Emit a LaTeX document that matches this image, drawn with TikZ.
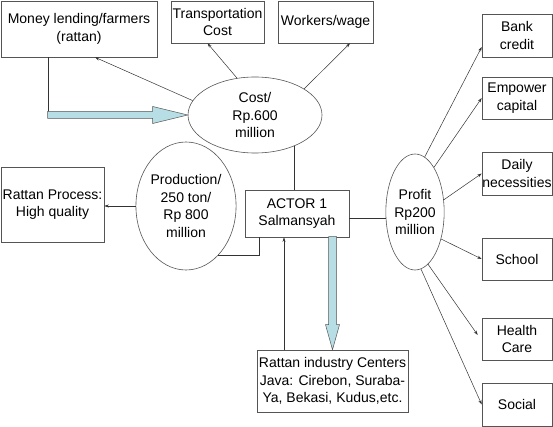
\documentclass[tikz,border=0pt]{standalone}
\usepackage{fontspec}
\setmainfont{Liberation Sans}
\usetikzlibrary{arrows.meta,shapes.geometric,calc}
\definecolor{shaftblue}{RGB}{182,222,228}
\definecolor{edgegray}{RGB}{85,85,85}

\tikzset{
	box/.style={draw=edgegray,line width=0.6pt,inner sep=1pt,align=center,font=\fontsize{14}{17.5}\selectfont},
	oval/.style={ellipse,draw=edgegray,line width=0.6pt,inner sep=0pt,align=center,font=\fontsize{14}{17.5}\selectfont},
	line/.style={draw=black!80,line width=0.5pt},
	arr/.style={line,-{Stealth[length=4.5pt,width=3pt]}},
	fatarrow/.style={draw=edgegray,line width=0.5pt,fill=shaftblue,line join=miter}
}

\begin{document}
\begin{tikzpicture}[x=1pt,y=-1pt]
		\useasboundingbox (0,0) rectangle (553,427);
		
		% boxes on top
		\node[box,minimum width=156,minimum height=56] (money) at (79,29) {Money lending/farmers\\(rattan)};
		\node[box,minimum width=93,minimum height=42] (transport) at (217.5,22) {Transportation\\Cost};
		\node[box,minimum width=95,minimum height=42] (workers) at (325.5,22) {Workers/wage};
		
		% boxes on the right
		\node[box,minimum width=70,minimum height=43,inner sep=0pt] (bank) at (517,35.5) {Bank\\credit};
		\node[box,minimum width=70,minimum height=42,inner sep=0pt] (empower) at (517,98) {Empower\\capital};
		\node[box,minimum width=70,minimum height=43,inner sep=0pt] (daily) at (517,173.5) {Daily\\necessities};
		\node[box,minimum width=70,minimum height=42,inner sep=0pt] (school) at (517,259) {School};
		\node[box,minimum width=70,minimum height=42,inner sep=0pt] (health) at (517,339) {Health\\Care};
		\node[box,minimum width=70,minimum height=43,inner sep=0pt] (social) at (517,404.5) {Social};
		
		% middle
		\node[box,minimum width=103,minimum height=75] (process) at (52.5,204.5) {Rattan Process:\\High quality};
		\node[box,minimum width=104,minimum height=47] (actor) at (297,213.5) {ACTOR 1\\Salmansyah};
		\node[box,minimum width=151,minimum height=62] (industry) at (332.5,381) {Rattan industry Centers\\Java: Cirebon, Suraba-\\Ya, Bekasi, Kudus,etc.};
		
		\node[oval,minimum width=134,minimum height=76] (cost) at (255,115) {Cost/\\Rp.600\\million};
		\node[oval,minimum width=100,minimum height=128] (production) at (186,206) {Production/\\250 ton/\\Rp 800\\million};
		\node[oval,minimum width=56,minimum height=116] (profit) at (415,212) {Profit\\Rp200\\million};
		
		% cost
		\draw[arr] (cost.167) -- ([xshift=16pt]money.south);
		\draw[arr] (cost.116) -- ([xshift=-10pt]transport.south);
		\draw[arr] (cost.28) -- ([xshift=24.5pt]workers.south);
		\draw[line] (cost.-38) -- (cost.-38 |- actor.north);
		
		% fat arrows
		\draw[line] ([xshift=-31pt]money.south) -- ++(0,55);
		\draw[fatarrow] (cost.west) -- ++(-35,-8.5) -- ++(0,5) -- ++(-105,0) -- ++(0,7) -- ++(105,0) -- ++(0,5) -- cycle;
		\draw[fatarrow] (industry.north) -- ++(-7,-25) -- ++(3,0) -- ++(0,-88) -- ++(8,0) -- ++(0,88) -- ++(3,0) -- cycle;
		
		% production and actor
		\draw[arr] (production.west) -- (production.west -| process.east);
		\draw[line] (production.-57) -| ([xshift=15pt]actor.south west);
		\coordinate (upend) at ([xshift=-13pt]actor.south);
		\draw[arr] (upend |- industry.north) -- (upend);
		\coordinate (profitin) at ([yshift=-4.5pt]actor.east);
		\draw[line] (profitin) -- (profitin -| profit.west);
		
		% profit
		\draw[arr] (profit.80) -- ([yshift=-11.5pt]bank.west);
		\draw[arr] (profit.67) -- (empower.west);
		\draw[arr] (profit.23) -- (daily.west);
		\draw[arr] (profit.-46) -- (school.west);
		\draw[arr] (profit.-76) -- ([xshift=-4pt,yshift=4pt]health.west);
		\draw[arr] (profit.-84) -- (social.west);
	\end{tikzpicture}
\end{document}
